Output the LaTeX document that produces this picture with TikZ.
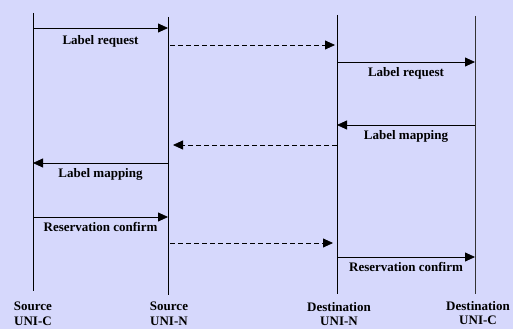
\documentclass[tikz,border=0pt]{standalone}
\usepackage{fontspec}
\setmainfont{Liberation Serif}
\usetikzlibrary{arrows.meta,positioning}
\definecolor{panel}{RGB}{214,216,252}
\tikzset{
  msg/.style={-{Triangle[length=10pt,width=9pt]},line width=0.8pt},
  fwd/.style={msg,dash pattern=on 5pt off 3pt},
  lbl/.style={font=\fontsize{13}{15}\selectfont\bfseries,inner sep=0pt,below=5pt},
  role/.style={font=\fontsize{13}{14.5}\selectfont\bfseries,align=center,inner sep=0pt},
}

\begin{document}
\begin{tikzpicture}[x=1pt,y=-1pt]
				 \fill[panel] (0,0) rectangle (513,329);
				 \useasboundingbox (0,0) rectangle (513,329);
				 % \draw[color=gray,step=10pt,help lines,opacity=0.3] (0,0) grid (513,329); %help grid
				 \coordinate (sc) at (33,13);   \coordinate (sc end) at (33,291);
				 \coordinate (sn) at (168,17);  \coordinate (sn end) at (168,295);
				 \coordinate (dn) at (337,15);  \coordinate (dn end) at (337,294);
				 \coordinate (dc) at (475,16);  \coordinate (dc end) at (475,294);
				 \draw[line width=0.8pt] (sc)--(sc end);
				 \draw[line width=0.8pt] (sn)--(sn end);
				 \draw[line width=0.8pt] (dn)--(dn end);
				 \draw[line width=0.9pt,black!80] (dc)--(dc end);
				 % message levels
				 \coordinate (m1) at (0,28);
				 \coordinate (m2) at (0,45);
				 \coordinate (m3) at (0,62);
				 \coordinate (m4) at (0,125);
				 \coordinate (m5) at (0,145);
				 \coordinate (m6) at (0,163);
				 \coordinate (m7) at (0,217);
				 \coordinate (m8) at (0,243);
				 \coordinate (m9) at (0,257);
				 \draw[msg] (sc |- m1)--node[lbl,below=7pt] (req a) {Label request} (sn |- m1);
				 \draw[fwd,shorten <=2pt,shorten >=2pt] (sn |- m2)--(dn |- m2);
				 \draw[msg] (dn |- m3)--node[lbl] (req b) {Label request} (dc |- m3);
				 \draw[msg] (dc |- m4)--node[lbl] (map b) {Label mapping} (dn |- m4);
				 \draw[fwd,shorten >=5pt] (dn |- m5)--(sn |- m5);
				 \draw[msg] (sn |- m6)--node[lbl] (map a) {Label mapping} (sc |- m6);
				 \draw[msg] (sc |- m7)--node[lbl] (conf a) {Reservation confirm} (sn |- m7);
				 \draw[fwd,shorten <=2pt,shorten >=4pt] (sn |- m8)--(dn |- m8);
				 \draw[msg] (dn |- m9)--node[lbl] (conf b) {Reservation confirm} (dc |- m9);
				 % end points
				 \node[role] (sc name) at (33,314) {Source\\UNI-C};
				 \node[role] (sn name) at (169,314) {Source\\UNI-N};
				 \node[role] (dn name) at (339,314) {Destination\\UNI-N};
				 \node[role] (dc name) at (478,313) {Destination\\UNI-C};
\end{tikzpicture}
\end{document}
